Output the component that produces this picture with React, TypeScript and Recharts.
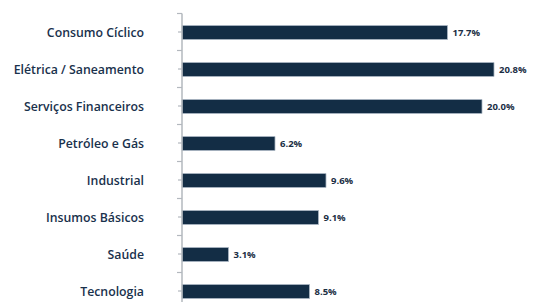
import { BarChart, Bar, XAxis, YAxis, LabelList } from 'recharts'

const sectors = [
  'Consumo Cíclico',
  'Elétrica / Saneamento',
  'Serviços Financeiros',
  'Petróleo e Gás',
  'Industrial',
  'Insumos Básicos',
  'Saúde',
  'Tecnologia',
]
const weights = [17.7, 20.8, 20.0, 6.2, 9.6, 9.1, 3.1, 8.5]

const data = sectors.map((sector, i) => ({ sector, weight: weights[i] }))

const AXIS = '#b3b8be'
const NAVY = '#132d45'

// category label plus a small tick at the upper edge of each band
function SectorTick(props: any) {
  const { x, y, payload } = props
  const half = payload?.offset ?? 18.5
  const axisX = x + 38
  return (
    <g>
      <line x1={axisX - 5} x2={axisX} y1={y - half} y2={y - half} stroke={AXIS} strokeWidth={1.2} />
      <text
        x={x}
        y={y}
        dy={4.5}
        textAnchor="end"
        fill="#19314c"
        fontSize={12.3}
        fontWeight={600}
        fontFamily="'Open Sans', sans-serif"
      >
        {payload.value}
      </text>
    </g>
  )
}

export default function App() {
  return (
    <div style={{ position: 'absolute', left: 0, top: 0, width: 536, height: 302, overflow: 'hidden', background: '#fff' }}>
      <BarChart
        width={536}
        height={310}
        data={data}
        layout="vertical"
        margin={{ top: 13.5, right: 9, left: 0, bottom: 0.5 }}
      >
        <XAxis type="number" domain={[0, 23]} hide />
        <YAxis
          type="category"
          dataKey="sector"
          width={182}
          axisLine={{ stroke: AXIS, strokeWidth: 1.5 }}
          tickLine={{ stroke: AXIS, strokeWidth: 1.2 }}
          tickSize={4}
          tickMargin={34}
          tick={<SectorTick />}
          interval={0}
        />
        <Bar
          dataKey="weight"
          fill={NAVY}
          stroke="#a9b6c3"
          strokeWidth={0.8}
          barSize={14}
          isAnimationActive={false}
        >
          <LabelList
            dataKey="weight"
            position="right"
            offset={5}
            formatter={(v: any) => `${Number(v).toFixed(1)}%`}
            fill="#1a2e44"
            fontSize={9.5}
            fontWeight={700}
            fontFamily="'Open Sans', sans-serif"
          />
        </Bar>
      </BarChart>
    </div>
  )
}
